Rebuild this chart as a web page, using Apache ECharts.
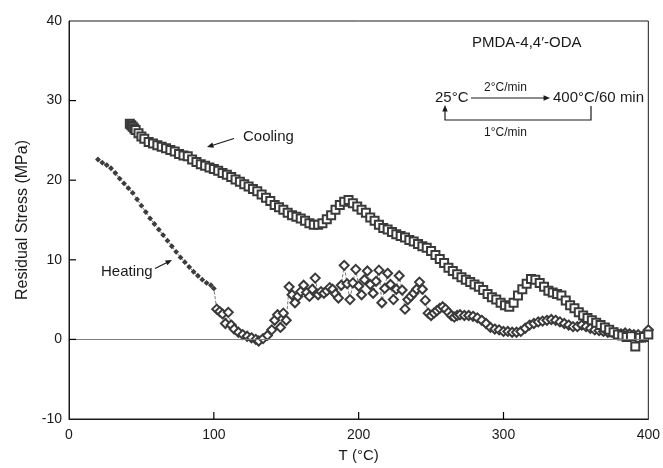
<!DOCTYPE html>
<html>
<head>
<meta charset="utf-8">
<script src="https://cdn.jsdelivr.net/npm/echarts@6/dist/echarts.min.js"></script>
<style>
html,body{margin:0;padding:0;background:#fff;}
#chart{width:663px;height:468px;}
</style>
</head>
<body>
<div id="chart"></div>
<script>
// ---- data ----
const xTicks = [0, 100, 200, 300, 400];
const yTicks = [-10, 0, 10, 20, 30, 40];

const coolingT = [42,43,44,45,46,48,50,52,55,58,61,64,67,70,73,76,79,82,85,88,91,94,97,100,103,106,109,112,115,118,121,124,127,130,133,136,139,142,145,148,151,154,157,160,163,166,169,172,175,178,181,184,187,190,193,196,199,202,205,208,211,214,217,220,223,226,229,232,235,238,241,244,247,250,253,256,259,262,265,268,271,274,277,280,283,286,289,292,295,298,301,304,307,310,313,316,319,322,325,328,331,334,337,340,343,346,349,352,355,358,361,364,367,370,373,376,379,382,385,388,391,394,397,400];
const coolingS = [27.1,26.9,26.7,26.5,26.3,25.9,25.5,25.2,24.8,24.6,24.4,24.2,24.0,23.8,23.6,23.3,23.1,23.0,22.6,22.3,22.0,21.8,21.6,21.4,21.2,20.9,20.7,20.4,20.1,19.8,19.5,19.2,18.9,18.6,18.2,17.8,17.4,16.9,16.6,16.3,15.9,15.6,15.4,15.2,14.9,14.6,14.4,14.4,14.6,15.1,15.6,16.3,16.9,17.3,17.5,17.1,16.7,16.3,15.9,15.3,14.9,14.4,14.0,13.8,13.5,13.2,13.0,12.8,12.5,12.3,12.0,11.7,11.5,11.1,10.6,10.1,9.6,9.0,8.6,8.2,7.8,7.5,7.2,6.9,6.6,6.2,5.7,5.3,5.0,4.6,4.3,4.1,4.6,5.5,6.3,7.0,7.6,7.5,7.1,6.6,6.1,5.9,5.7,5.5,4.9,4.3,3.9,3.4,3.0,2.7,2.4,2.1,1.8,1.5,1.2,0.9,0.6,0.5,0.3,0.4,-0.9,0.2,0.3,0.6];

const heatingT = [20,23,26,29,32,35,38,41,44,47,50,53,56,59,62,65,68,71,74,77,80,83,86,89,92,95,98,100,102,104,106,108,110,112,114,117,120,123,126,129,131,134,137,140,142,144,146,148,150,152,154,156,158,160,162,164,166,168,170,172,174,176,178,180,182,184,186,188,190,192,194,196,198,200,202,204,206,208,210,212,214,216,218,220,222,224,226,228,230,232,234,236,238,240,242,244,246,248,250,252,254,256,258,260,262,264,266,268,270,273,276,279,282,285,288,291,294,297,300,303,306,309,312,315,318,321,324,327,330,333,336,339,342,345,348,351,354,357,360,363,366,369,372,375,378,381,384,387,390,393,396,398,400];
const heatingS = [22.6,22.2,21.9,21.5,20.9,20.2,19.6,19.0,18.4,17.6,16.8,16.0,15.2,14.5,13.8,13.1,12.4,11.7,11.0,10.3,9.7,9.1,8.5,8.0,7.5,7.1,6.8,6.4,3.8,3.5,3.2,2.0,3.4,1.8,1.3,0.9,0.6,0.4,0.2,0.0,-0.2,0.1,0.5,1.2,2.4,3.1,1.5,3.3,2.4,6.6,5.6,4.6,5.4,6.0,6.8,5.9,5.4,6.3,7.7,5.6,6.0,5.8,6.1,6.5,6.3,5.7,5.2,6.8,9.3,7.0,5.0,7.1,8.8,6.7,5.6,7.5,8.6,6.9,5.8,7.3,8.7,4.6,6.4,8.3,6.9,5.0,6.3,8.0,6.2,3.8,5.0,5.4,5.8,6.3,7.2,6.3,4.9,3.3,3.0,3.3,3.6,3.9,4.1,3.8,3.4,3.0,2.8,3.0,3.1,3.0,3.0,2.9,2.7,2.4,2.0,1.5,1.3,1.2,1.0,1.0,0.9,0.9,1.0,1.4,1.8,2.0,2.2,2.3,2.4,2.5,2.4,2.2,2.0,1.8,1.6,1.6,1.8,1.6,1.4,1.2,1.1,1.0,0.9,0.9,0.8,0.7,0.8,0.7,0.6,0.6,0.4,0.3,1.2];

const coolingData = coolingT.map((t, i) => [t, coolingS[i]]);
const heatingData = heatingT.map((t, i) => [t, heatingS[i]]);

const FONT = '"Liberation Sans", Arial, Helvetica, sans-serif';
const INK = '#1a1a1a';
const MARK = '#3a3a3a';

const xMin = xTicks[0], xMax = xTicks[xTicks.length - 1];
const yMin = yTicks[0], yMax = yTicks[yTicks.length - 1];

// inner tick marks drawn through the axes' scales: [value, 0 = x-axis tick / 1 = y-axis tick]
const tickData = xTicks.slice(1, -1).map(v => [v, 0]).concat(yTicks.slice(1, -1).map(v => [v, 1]));

const chart = echarts.init(document.getElementById('chart'), null, {renderer: 'canvas'});

function arrowHead(x, y, angle, size) {
  const a1 = angle + Math.PI - 0.4, a2 = angle + Math.PI + 0.4;
  return {
    type: 'polygon',
    shape: {points: [[x, y], [x + size * Math.cos(a1), y + size * Math.sin(a1)], [x + size * Math.cos(a2), y + size * Math.sin(a2)]]},
    style: {fill: INK}
  };
}

const option = {
  backgroundColor: '#fff',
  animation: false,
  grid: {left: 69, top: 21, width: 582, height: 401, show: true, borderColor: INK, borderWidth: 1},
  xAxis: {
    type: 'value', min: xMin, max: xMax, interval: xTicks[1] - xTicks[0],
    name: 'T (°C)', nameLocation: 'middle', nameGap: 29,
    nameTextStyle: {fontFamily: FONT, fontSize: 15, color: INK},
    axisLine: {show: true, onZero: false, lineStyle: {color: INK, width: 1}},
    axisTick: {show: false},
    axisLabel: {fontFamily: FONT, fontSize: 14, color: INK, margin: 9},
    splitLine: {show: false}
  },
  yAxis: {
    type: 'value', min: yMin, max: yMax, interval: yTicks[1] - yTicks[0],
    name: 'Residual Stress (MPa)', nameLocation: 'middle', nameGap: 38,
    nameTextStyle: {fontFamily: FONT, fontSize: 16, color: INK},
    axisLine: {show: true, onZero: false, lineStyle: {color: INK, width: 1}},
    axisTick: {show: false},
    axisLabel: {fontFamily: FONT, fontSize: 14, color: INK, margin: 7},
    splitLine: {show: false}
  },
  series: [
    {
      name: 'ticks', type: 'custom', data: tickData, silent: true, clip: false, z: 10,
      renderItem: function (params, api) {
        const v = api.value(0), kind = api.value(1);
        if (kind === 0) {
          const p = api.coord([v, yMin]);
          return {type: 'line', shape: {x1: p[0], y1: p[1], x2: p[0], y2: p[1] - 7}, style: {stroke: '#000', lineWidth: 1.2}};
        }
        const p = api.coord([xMin, v]);
        return {type: 'line', shape: {x1: p[0], y1: p[1], x2: p[0] + 7, y2: p[1]}, style: {stroke: '#000', lineWidth: 1.2}};
      }
    },
    {
      name: 'Heating', type: 'line', data: heatingData,
      symbol: 'emptyDiamond', showAllSymbol: true,
      symbolSize: v => v[0] <= 100 ? 3 : 9,
      clip: false,
      lineStyle: {color: '#555', width: 0.8, type: 'dashed'},
      itemStyle: {color: MARK, borderWidth: 0.8},
      markLine: {
        silent: true, symbol: 'none', label: {show: false},
        lineStyle: {color: '#808080', width: 1, type: 'solid'},
        data: [{yAxis: 0}]
      },
      z: 2
    },
    {
      name: 'Cooling', type: 'line', data: coolingData,
      symbol: 'emptyRect', showAllSymbol: true, symbolSize: 8,
      clip: false,
      lineStyle: {color: '#444', width: 0.8, type: 'dotted'},
      itemStyle: {color: MARK, borderWidth: 0.8},
      z: 3
    }
  ],
  graphic: [
    {type: 'text', left: 472, top: 35, style: {text: 'PMDA-4,4\u2032-ODA', font: '15px ' + FONT, fill: INK}},
    {type: 'text', left: 435, top: 90, style: {text: '25°C', font: '15px ' + FONT, fill: INK}},
    {type: 'line', shape: {x1: 471, y1: 98, x2: 545, y2: 98}, style: {stroke: INK, lineWidth: 1.2}},
    arrowHead(550, 98, 0, 7),
    {type: 'text', left: 484, top: 82, style: {text: '2°C/min', font: '12px ' + FONT, fill: INK}},
    {type: 'text', left: 553, top: 90, style: {text: '400°C/60 min', font: '15px ' + FONT, fill: INK}},
    {type: 'polyline', shape: {points: [[591, 106], [591, 120], [445, 120], [445, 111]]}, style: {stroke: INK, lineWidth: 1.2, fill: null}},
    arrowHead(445, 105, -Math.PI / 2, 7),
    {type: 'text', left: 484, top: 127, style: {text: '1°C/min', font: '12px ' + FONT, fill: INK}},
    {type: 'text', left: 243, top: 129, style: {text: 'Cooling', font: '15px ' + FONT, fill: INK}},
    {type: 'line', shape: {x1: 234, y1: 138.5, x2: 212, y2: 145.5}, style: {stroke: INK, lineWidth: 1.2}},
    arrowHead(207, 147, Math.atan2(8.5, -27), 7),
    {type: 'text', left: 101, top: 264, style: {text: 'Heating', font: '15px ' + FONT, fill: INK}},
    {type: 'line', shape: {x1: 155, y1: 268.5, x2: 167, y2: 262.5}, style: {stroke: INK, lineWidth: 1.2}},
    arrowHead(172, 260, Math.atan2(-8.5, 17), 7)
  ]
};
chart.setOption(option);
</script>
</body>
</html>
